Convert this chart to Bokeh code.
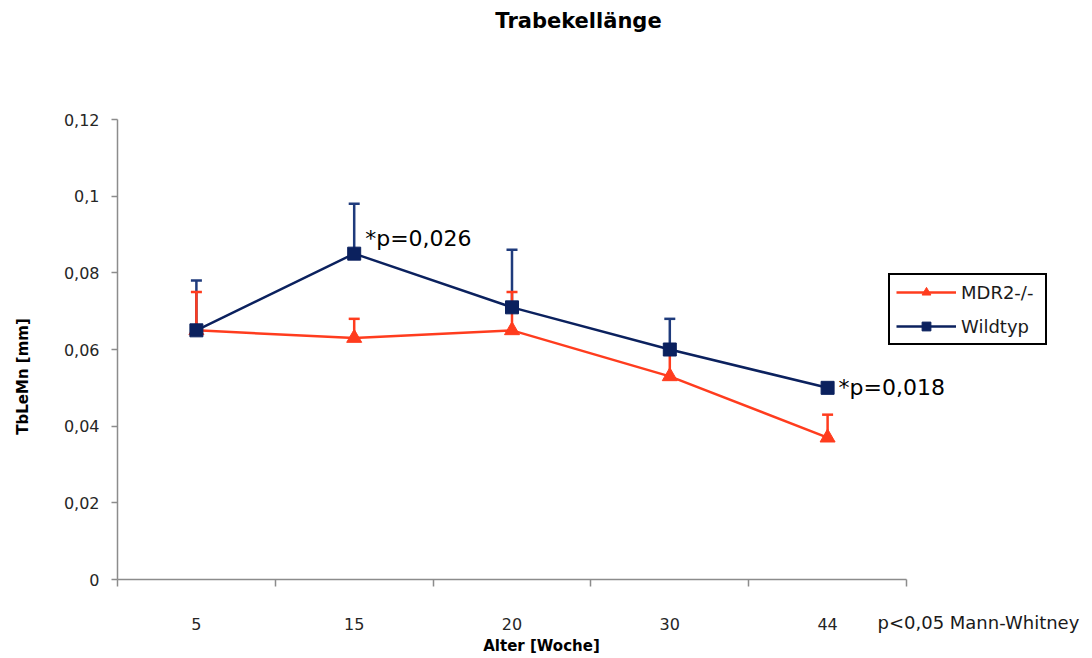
import numpy as np
from bokeh.plotting import figure
from bokeh.models import (ColumnDataSource, FixedTicker, Whisker, TeeHead, Label,
                          Legend, LegendItem, Range1d)
from bokeh.embed import file_html
from bokeh.resources import INLINE

# Age groups (weeks) and trabecular length means with upper SD
weeks = ["5", "15", "20", "30", "44"]
mdr2_mean = [0.065, 0.063, 0.065, 0.053, 0.037]
mdr2_upper = [0.075, 0.068, 0.075, 0.059, 0.043]
wt_mean = [0.065, 0.085, 0.071, 0.060, 0.050]
wt_upper = [0.078, 0.098, 0.086, 0.068, 0.050]
y_ticks = [0, 0.02, 0.04, 0.06, 0.08, 0.1, 0.12]
y_tick_labels = ["0", "0,02", "0,04", "0,06", "0,08", "0,1", "0,12"]
p_labels = {"15": "*p=0,026", "44": "*p=0,018"}

RED = "#ff3c1e"
NAVY = "#0b215e"
NAVY_ERR = "#1f3b7c"
AXIS = "#8c8c8c"
FONT = "DejaVu Sans"

# canvas and axes box in pixels; the plotting frame fills the whole canvas and
# the axes sit at fixed positions inside it
W, H = 1092, 658
AX_L, AX_R, AX_T, AX_B = 117, 906, 119, 579
n = len(weeks)
y_max = y_ticks[-1]
px_x = (AX_R - AX_L) / n
px_y = (AX_B - AX_T) / y_max
x_range = Range1d(-AX_L / px_x, n + (W - AX_R) / px_x)
y_range = Range1d(-(H - AX_B) / px_y, y_max + AX_T / px_y)

xpos = np.arange(n) + 0.5
mdr2_src = ColumnDataSource(dict(x=xpos, y=mdr2_mean, up=mdr2_upper))
wt_src = ColumnDataSource(dict(x=xpos, y=wt_mean, up=wt_upper))

p = figure(width=W, height=H, output_backend="svg", toolbar_location=None,
           x_range=x_range, y_range=y_range, min_border=0)
p.outline_line_color = None
p.xgrid.visible = False
p.ygrid.visible = False
p.background_fill_color = "white"
p.border_fill_color = "white"

# x axis: category labels in the middle, tick marks on the boundaries
p.xaxis.fixed_location = 0
p.xaxis.bounds = (0, n)
p.xaxis.ticker = FixedTicker(ticks=list(xpos), minor_ticks=list(range(n + 1)))
p.xaxis.major_label_overrides = {float(x): w for x, w in zip(xpos, weeks)}
p.xaxis.major_tick_line_color = None
p.xaxis.major_tick_out = 0
p.xaxis.major_tick_in = 0
p.xaxis.minor_tick_out = 7
p.xaxis.minor_tick_in = 0
p.xaxis.minor_tick_line_color = AXIS
p.xaxis.minor_tick_line_width = 1.5
p.xaxis.major_label_standoff = 31

p.yaxis.fixed_location = 0
p.yaxis.bounds = (0, y_max)
p.yaxis.ticker = FixedTicker(ticks=y_ticks, minor_ticks=[])
p.yaxis.major_label_overrides = {float(t): l for t, l in zip(y_ticks, y_tick_labels)}
p.yaxis.major_tick_out = 6
p.yaxis.major_tick_in = 0
p.yaxis.major_tick_line_color = AXIS
p.yaxis.major_tick_line_width = 1.5
p.yaxis.major_label_standoff = 12

for ax in (p.xaxis, p.yaxis):
    ax.axis_line_color = AXIS
    ax.axis_line_width = 1.5
    ax.major_label_text_font = FONT
    ax.major_label_text_font_size = "16px"
    ax.major_label_text_color = "#262626"

# error bars (upper only)
p.add_layout(Whisker(source=wt_src, base="x", lower="y", upper="up", dimension="height",
                     line_color=NAVY_ERR, line_width=2.5,
                     upper_head=TeeHead(size=11, line_color=NAVY_ERR, line_width=2.5),
                     lower_head=None))
p.add_layout(Whisker(source=mdr2_src, base="x", lower="y", upper="up", dimension="height",
                     line_color=RED, line_width=2.5,
                     upper_head=TeeHead(size=11, line_color=RED, line_width=2.5),
                     lower_head=None))

r_line = p.line("x", "y", source=mdr2_src, line_color=RED, line_width=2.5)
r_mark = p.scatter("x", "y", source=mdr2_src, marker="triangle", size=15,
                   fill_color=RED, line_color=RED)
b_line = p.line("x", "y", source=wt_src, line_color=NAVY, line_width=2.5)
b_mark = p.scatter("x", "y", source=wt_src, marker="square", size=13,
                   fill_color=NAVY, line_color=NAVY)

legend = Legend(items=[LegendItem(label="MDR2-/-", renderers=[r_line, r_mark]),
                       LegendItem(label="Wildtyp", renderers=[b_line, b_mark])],
                location=(888, H - 345), orientation="vertical",
                border_line_color="black", border_line_width=2, border_line_alpha=1,
                background_fill_color="white", background_fill_alpha=1,
                label_text_font=FONT, label_text_font_size="18px",
                label_text_color="#1a1a1a", label_width=78,
                glyph_width=60, glyph_height=22, label_standoff=5,
                spacing=12, padding=6, margin=0)
p.add_layout(legend, "center")

# significance notes next to the points
for w, txt in p_labels.items():
    i = weeks.index(w)
    p.add_layout(Label(x=xpos[i], y=wt_mean[i], text=txt, x_offset=11,
                       y_offset=15 if w == "15" else 0,
                       text_baseline="middle", text_font=FONT,
                       text_font_size="22px", text_color="black"))

# title, axis names and test note (screen px from the bottom-left corner)
p.add_layout(Label(x=578, y=H - 20, x_units="screen", y_units="screen",
                   text="Trabekellänge", text_align="center", text_baseline="middle",
                   text_font=FONT, text_font_style="bold", text_font_size="21px",
                   text_color="black"))
p.add_layout(Label(x=541, y=H - 645, x_units="screen", y_units="screen",
                   text="Alter [Woche]", text_align="center", text_baseline="middle",
                   text_font=FONT, text_font_style="bold", text_font_size="15px",
                   text_color="black"))
p.add_layout(Label(x=22, y=H - 376, x_units="screen", y_units="screen",
                   text="TbLeMn [mm]", text_align="center", text_baseline="middle",
                   angle=np.pi / 2, text_font=FONT, text_font_style="bold",
                   text_font_size="15px", text_color="black"))
p.add_layout(Label(x=877, y=H - 622, x_units="screen", y_units="screen",
                   text="p<0,05 Mann-Whitney", text_align="left", text_baseline="middle",
                   text_font=FONT, text_font_size="18px", text_color="#1a1a1a"))

open("out.html", "w").write(file_html(p, INLINE))
